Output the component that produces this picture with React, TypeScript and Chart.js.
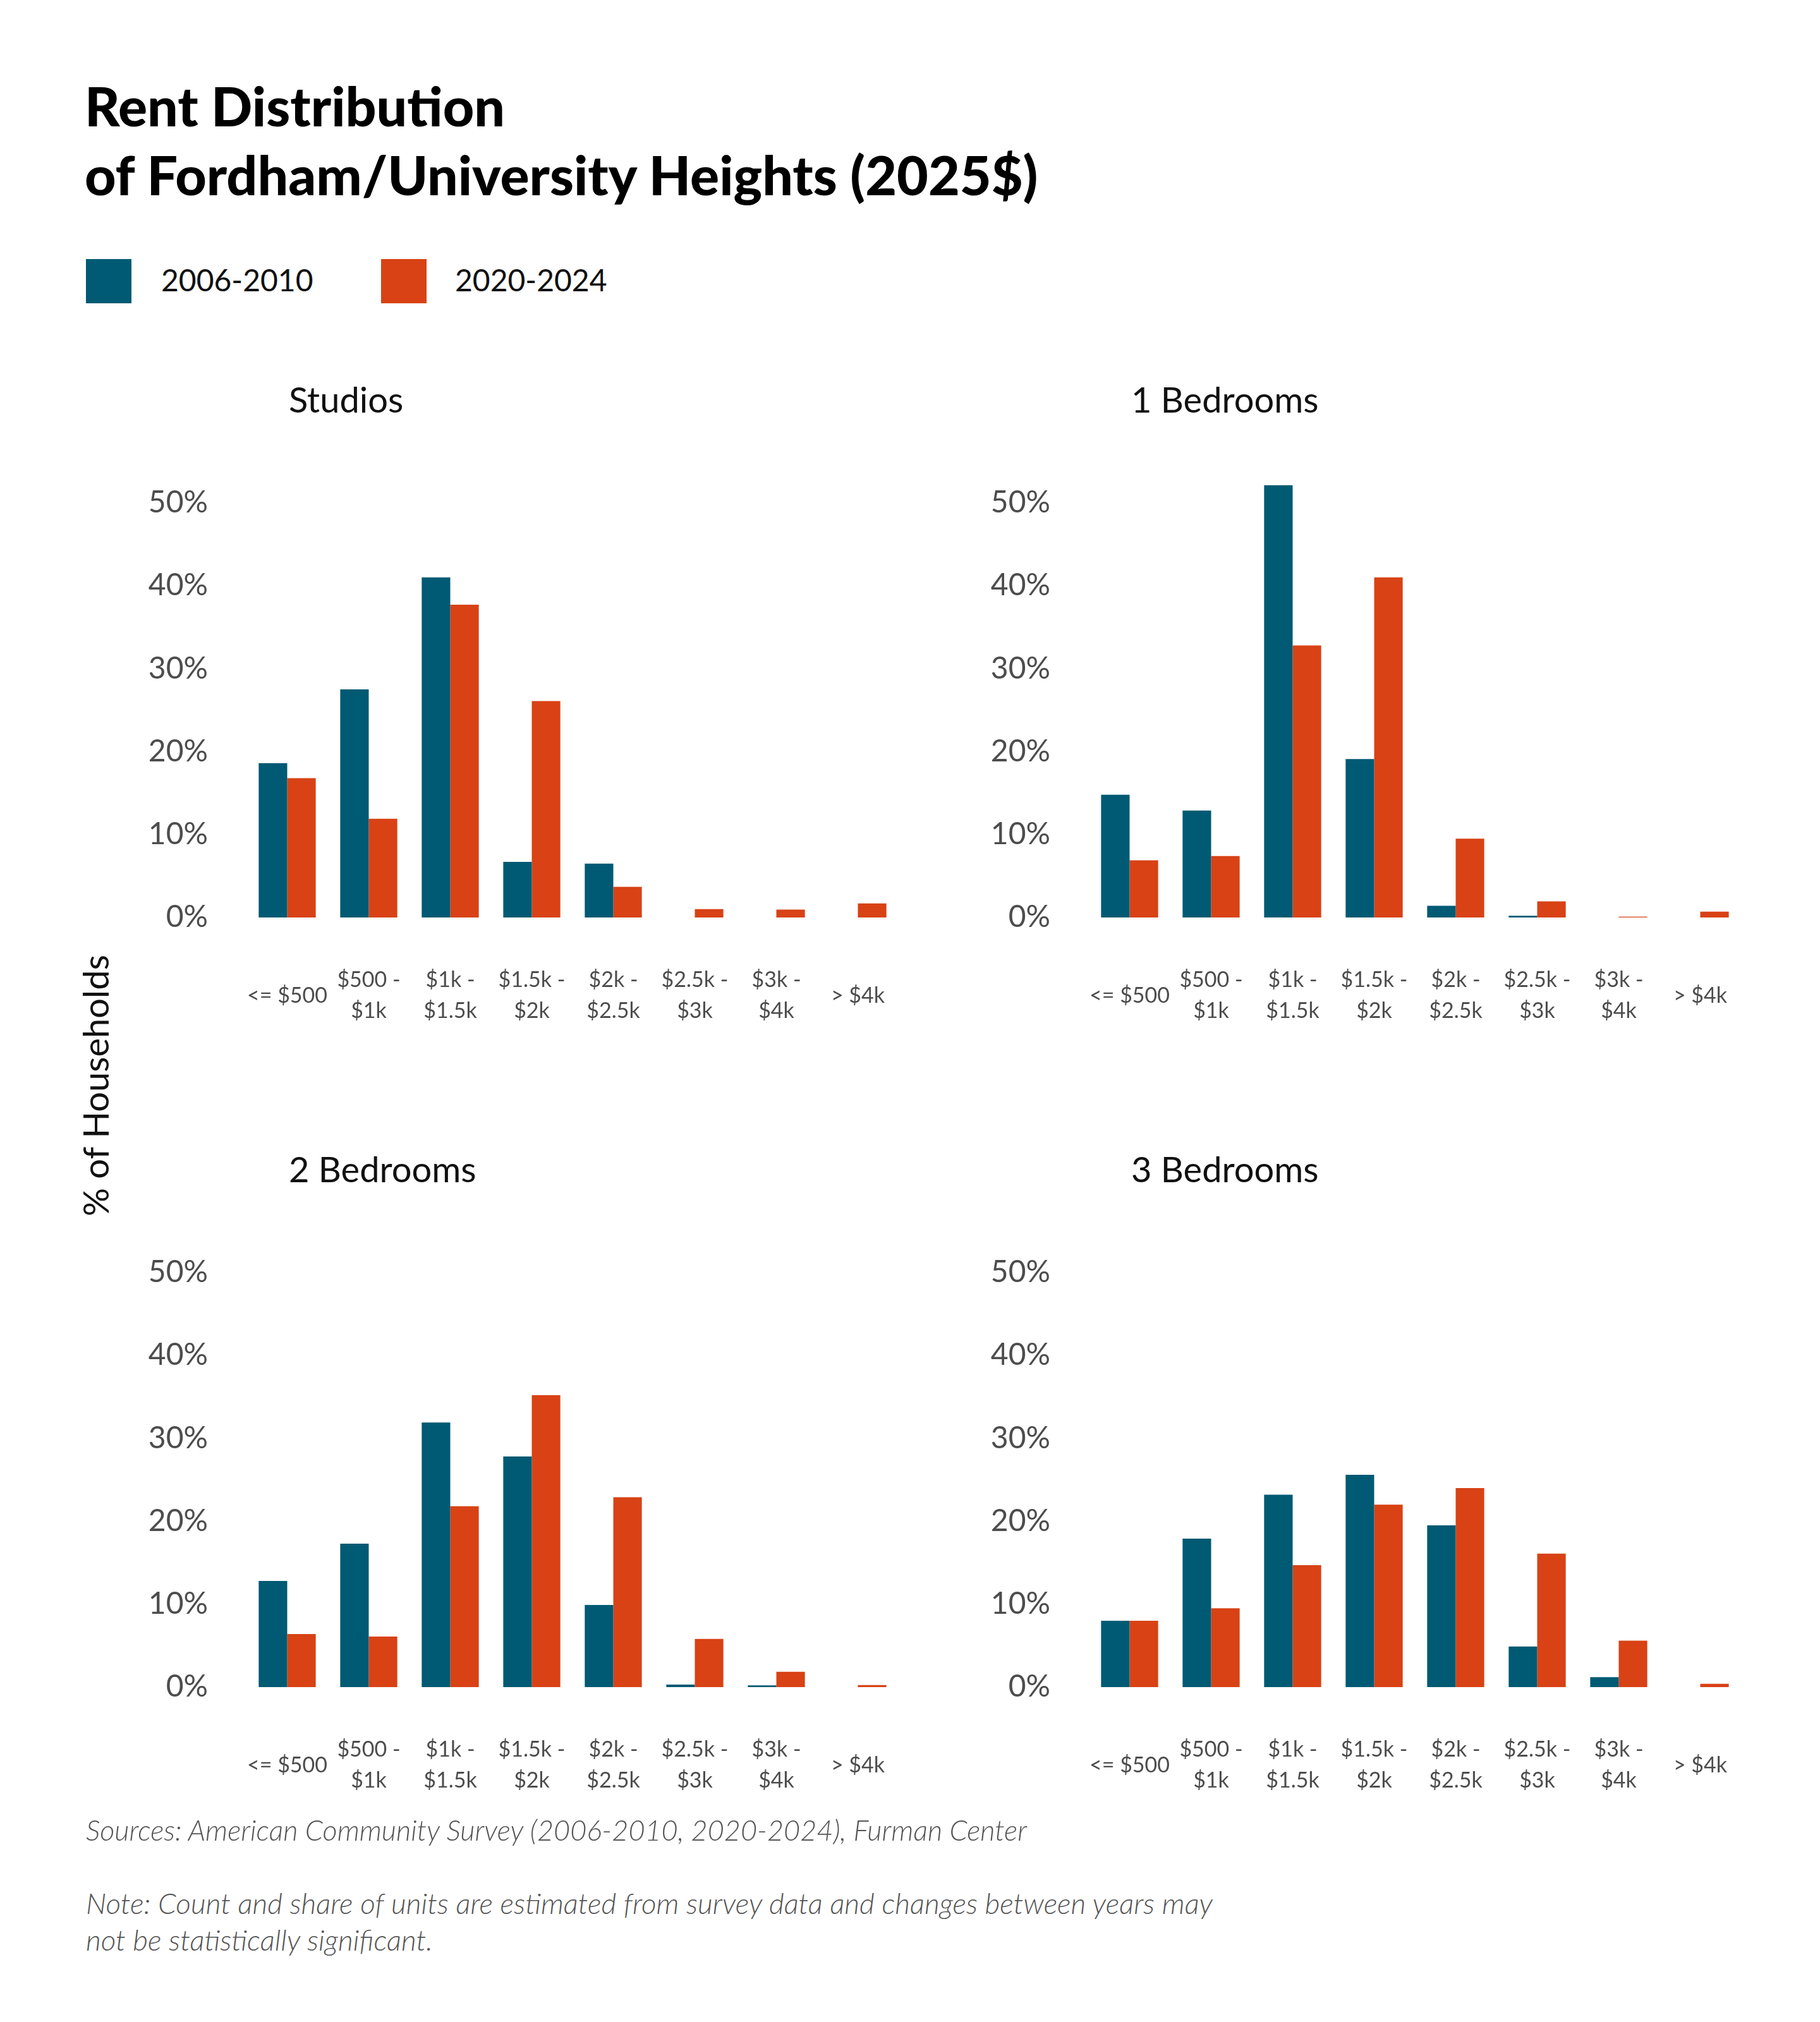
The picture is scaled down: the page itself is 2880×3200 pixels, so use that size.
import { useEffect, useRef } from 'react';
import { Chart, registerables } from 'chart.js';

Chart.register(...registerables);

// rent bands shown under each panel
const categories: (string | string[])[] = [
    '<= $500',
    ['$500 -', '$1k'],
    ['$1k -', '$1.5k'],
    ['$1.5k -', '$2k'],
    ['$2k -', '$2.5k'],
    ['$2.5k -', '$3k'],
    ['$3k -', '$4k'],
    '> $4k'
];

const seriesNames = ['2006-2010', '2020-2024'];

// % of households
const studios2006 = [18.6, 27.5, 41.0, 6.7, 6.5, 0, 0, 0];
const studios2020 = [16.8, 11.9, 37.7, 26.1, 3.7, 1.0, 0.95, 1.7];
const oneBed2006 = [14.8, 12.9, 52.1, 19.1, 1.4, 0.2, 0, 0];
const oneBed2020 = [6.9, 7.4, 32.8, 41.0, 9.5, 1.95, 0.1, 0.7];
const twoBed2006 = [12.8, 17.3, 31.9, 27.8, 9.9, 0.3, 0.2, 0];
const twoBed2020 = [6.4, 6.1, 21.8, 35.2, 22.9, 5.8, 1.85, 0.25];
const threeBed2006 = [8.0, 17.9, 23.2, 25.6, 19.5, 4.9, 1.2, 0];
const threeBed2020 = [8.0, 9.5, 14.7, 22.0, 24.0, 16.1, 5.6, 0.4];

const yTicks = [0, 10, 20, 30, 40, 50];
const yMax = 55;

const BLUE = '#005a73';
const ORANGE = '#d84215';
const FONT = 'Lato, "Open Sans", sans-serif';

const CANVAS_W = 1240;
const CANVAS_H = 952;

function Panel({ title, older, newer, left, top }: {
    title: string;
    older: number[];
    newer: number[];
    left: number;
    top: number;
}) {
    const chartRef = useRef<HTMLCanvasElement>(null);

    useEffect(() => {
        if (!chartRef.current) return;
        const chart = new Chart(chartRef.current, {
            type: 'bar',
            data: {
                labels: categories,
                datasets: [
                    {
                        label: seriesNames[0],
                        data: older,
                        backgroundColor: BLUE,
                        borderWidth: 0,
                        categoryPercentage: 0.7,
                        barPercentage: 1
                    },
                    {
                        label: seriesNames[1],
                        data: newer,
                        backgroundColor: ORANGE,
                        borderWidth: 0,
                        categoryPercentage: 0.7,
                        barPercentage: 1
                    }
                ]
            },
            options: {
                animation: false,
                responsive: false,
                devicePixelRatio: 1,
                layout: { padding: { top: 30, right: 18, bottom: 0, left: 0 } },
                plugins: {
                    legend: { display: false },
                    title: { display: false },
                    tooltip: { enabled: false }
                },
                scales: {
                    x: {
                        // gap below the bars comes from the (hidden) tick length,
                        // so it does not eat into the plot width
                        grid: { display: false, drawTicks: true, tickLength: 99 },
                        border: { display: false },
                        ticks: {
                            autoSkip: false,
                            maxRotation: 0,
                            minRotation: 0,
                            padding: 0,
                            crossAlign: 'center',
                            color: '#4d4d4d',
                            font: { family: FONT, size: 34, lineHeight: 1.45 }
                        },
                        afterFit: (scale: any) => {
                            scale.height = 200;
                        }
                    },
                    y: {
                        min: 0,
                        max: yMax,
                        grid: { display: false, drawTicks: true, tickLength: 61 },
                        border: { display: false },
                        afterBuildTicks: (scale: any) => {
                            scale.ticks = yTicks.map(v => ({ value: v }));
                        },
                        ticks: {
                            padding: 0,
                            color: '#4d4d4d',
                            font: { family: FONT, size: 48 },
                            callback: (v: any) => v + '%'
                        },
                        afterFit: (scale: any) => {
                            scale.width = 190;
                        }
                    }
                }
            }
        });

        return () => {
            chart.destroy();
        };
    }, [older, newer]);

    return (
        <>
            <div style={{
                position: 'absolute',
                left: left + 257,
                top: top - 100,
                fontSize: 56,
                lineHeight: '64px',
                color: '#111',
                whiteSpace: 'nowrap'
            }}>
                {title}
            </div>
            <canvas
                ref={chartRef}
                width={CANVAS_W}
                height={CANVAS_H}
                style={{ position: 'absolute', left, top, width: CANVAS_W, height: CANVAS_H }}
            />
        </>
    );
}

export default function App() {
    return (
        <div style={{
            position: 'absolute',
            left: 0,
            top: 0,
            width: 2880,
            height: 3200,
            background: '#fff',
            fontFamily: FONT,
            overflow: 'hidden'
        }}>
            <div style={{
                position: 'absolute',
                left: 134,
                top: 112,
                fontSize: 86,
                lineHeight: '109px',
                fontWeight: 900,
                color: '#000',
                whiteSpace: 'nowrap'
            }}>
                Rent Distribution<br />of Fordham/University Heights (2025$)
            </div>

            {/* legend */}
            <div style={{ position: 'absolute', left: 136, top: 410, width: 72, height: 70, background: BLUE }} />
            <div style={{ position: 'absolute', left: 255, top: 413, fontSize: 48, lineHeight: '60px', color: '#111' }}>
                {seriesNames[0]}
            </div>
            <div style={{ position: 'absolute', left: 603, top: 410, width: 72, height: 70, background: ORANGE }} />
            <div style={{ position: 'absolute', left: 720, top: 413, fontSize: 48, lineHeight: '60px', color: '#111' }}>
                {seriesNames[1]}
            </div>

            <Panel title="Studios" older={studios2006} newer={studios2020} left={200} top={700} />
            <Panel title="1 Bedrooms" older={oneBed2006} newer={oneBed2020} left={1533} top={700} />
            <Panel title="2 Bedrooms" older={twoBed2006} newer={twoBed2020} left={200} top={1918} />
            <Panel title="3 Bedrooms" older={threeBed2006} newer={threeBed2020} left={1533} top={1918} />

            <div style={{
                position: 'absolute',
                left: 150,
                top: 1718,
                transform: 'translate(-50%, -50%) rotate(-90deg)',
                fontSize: 56,
                whiteSpace: 'nowrap',
                color: '#111'
            }}>
                % of Households
            </div>

            <div style={{
                position: 'absolute',
                left: 136,
                top: 2866,
                fontSize: 45,
                lineHeight: '60px',
                fontStyle: 'italic',
                fontWeight: 300,
                color: '#555',
                whiteSpace: 'nowrap'
            }}>
                Sources: American Community Survey (2006-2010, 2020-2024), Furman Center
            </div>
            <div style={{
                position: 'absolute',
                left: 136,
                top: 2983,
                fontSize: 46,
                lineHeight: '58px',
                fontStyle: 'italic',
                fontWeight: 300,
                color: '#555',
                whiteSpace: 'nowrap'
            }}>
                Note: Count and share of units are estimated from survey data and changes between years may<br />
                not be statistically significant.
            </div>
        </div>
    );
}
